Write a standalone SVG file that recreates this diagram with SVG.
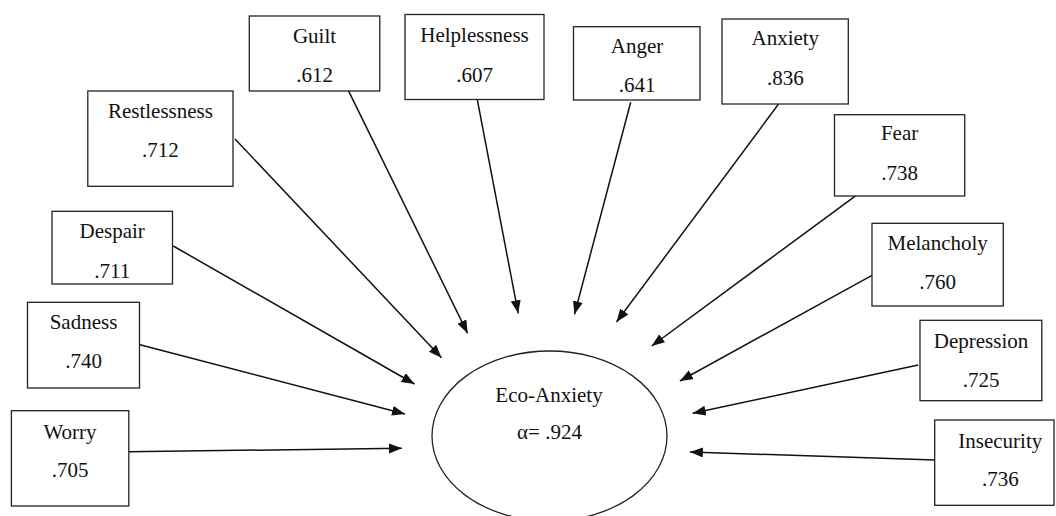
<svg xmlns="http://www.w3.org/2000/svg" width="1056" height="516" viewBox="0 0 1056 516">
<style>
.box{fill:#fff;stroke:#222;stroke-width:1.3}
.t{font-family:"Liberation Serif","Times New Roman",serif;font-size:21px;fill:#111;text-anchor:middle}
.c{fill:none;stroke:#111;stroke-width:1.5}
</style>
<defs>
<marker id="ah" markerUnits="userSpaceOnUse" markerWidth="14" markerHeight="12" refX="13" refY="5" orient="auto">
<path d="M0,0 L13,5 L0,10 Z" fill="#111"/>
</marker>
</defs>
<rect width="1056" height="516" fill="#fff"/>
<g id="connectors">
<line class="c" x1="235" y1="139" x2="441.5" y2="357.7" marker-end="url(#ah)"/>
<line class="c" x1="347.8" y1="89.3" x2="467.6" y2="333.3" marker-end="url(#ah)"/>
<line class="c" x1="477.3" y1="99.7" x2="518.2" y2="313.3" marker-end="url(#ah)"/>
<line class="c" x1="173.2" y1="246" x2="414.6" y2="384" marker-end="url(#ah)"/>
<line class="c" x1="140" y1="344.7" x2="405" y2="414" marker-end="url(#ah)"/>
<line class="c" x1="128.8" y1="451.7" x2="401.9" y2="448.3" marker-end="url(#ah)"/>
<line class="c" x1="630.7" y1="102.3" x2="574.5" y2="314.3" marker-end="url(#ah)"/>
<line class="c" x1="778.4" y1="104.3" x2="616.5" y2="322" marker-end="url(#ah)"/>
<line class="c" x1="857.6" y1="194.3" x2="651.7" y2="346" marker-end="url(#ah)"/>
<line class="c" x1="872" y1="275.3" x2="679.9" y2="381" marker-end="url(#ah)"/>
<line class="c" x1="918.2" y1="365" x2="692.7" y2="413.3" marker-end="url(#ah)"/>
<line class="c" x1="934.7" y1="460" x2="689.9" y2="452" marker-end="url(#ah)"/>
</g>
<g id="eco-anxiety">
<ellipse cx="549.5" cy="436" rx="117.5" ry="85" fill="#fff" stroke="#222" stroke-width="1.3"/>
<text class="t" x="549" y="401.7">Eco-Anxiety</text>
<text class="t" x="549.5" y="439.3">α= .924</text>
</g>
<g id="guilt"><rect class="box" x="249.3" y="16" width="130.5" height="75"/><text class="t" x="314.5" y="43.3">Guilt</text><text class="t" x="314.5" y="81.7">.612</text></g>
<g id="helplessness"><rect class="box" x="405" y="14.5" width="139" height="85"/><text class="t" x="474.5" y="41.7">Helplessness</text><text class="t" x="474.5" y="81.7">.607</text></g>
<g id="restlessness"><rect class="box" x="87.8" y="91" width="145.2" height="95.3"/><text class="t" x="160.4" y="118.3">Restlessness</text><text class="t" x="160.4" y="157.3">.712</text></g>
<g id="despair"><rect class="box" x="52" y="211.3" width="120.5" height="72.7"/><text class="t" x="112.2" y="238.3">Despair</text><text class="t" x="112.2" y="277.7">.711</text></g>
<g id="sadness"><rect class="box" x="27.5" y="302.3" width="112" height="85.7"/><text class="t" x="83.5" y="328.7">Sadness</text><text class="t" x="83.5" y="367.7">.740</text></g>
<g id="worry"><rect class="box" x="11.4" y="410.7" width="117.4" height="95.3"/><text class="t" x="70" y="438.7">Worry</text><text class="t" x="70" y="476.7">.705</text></g>
<g id="anger"><rect class="box" x="573.5" y="26.7" width="126.5" height="73.3"/><text class="t" x="637" y="53.3">Anger</text><text class="t" x="637" y="91.7">.641</text></g>
<g id="anxiety"><rect class="box" x="722" y="19" width="126.3" height="85"/><text class="t" x="785.3" y="45">Anxiety</text><text class="t" x="785.3" y="85">.836</text></g>
<g id="fear"><rect class="box" x="834.5" y="114.7" width="130.2" height="81.3"/><text class="t" x="899.6" y="140">Fear</text><text class="t" x="899.6" y="180">.738</text></g>
<g id="melancholy"><rect class="box" x="872" y="223.3" width="131.3" height="82.7"/><text class="t" x="937.7" y="250">Melancholy</text><text class="t" x="937.7" y="288.7">.760</text></g>
<g id="depression"><rect class="box" x="920" y="320.3" width="121.8" height="80.4"/><text class="t" x="981" y="347.7">Depression</text><text class="t" x="981" y="386.7">.725</text></g>
<g id="insecurity"><rect class="box" x="934.7" y="420" width="119.3" height="85.3"/><text class="t" x="1000.3" y="447.7">Insecurity</text><text class="t" x="1000.3" y="486">.736</text></g>
</svg>
